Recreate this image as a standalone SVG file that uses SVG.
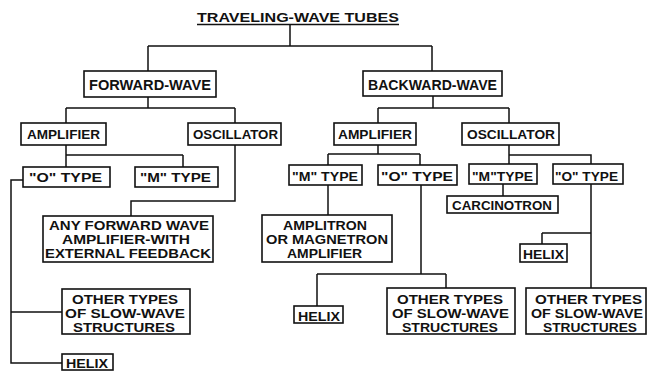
<svg xmlns="http://www.w3.org/2000/svg" width="647" height="372" viewBox="0 0 647 372">
<style>
.bg{fill:#fff}
.box{fill:#fff;stroke:#111;stroke-width:1.6}
.ln{fill:none;stroke:#111;stroke-width:1.5}
text{font-family:"Liberation Sans","DejaVu Sans",sans-serif;font-weight:bold;fill:#111;font-size:13px}
.m{font-size:12px}
.h{font-size:14px}
</style>
<rect class="bg" x="0" y="0" width="647" height="372"/>
<g id="connectors">
<path class="ln" d="M290,25V46M148,46H432M148,46V71M432,46V71"/>
<path class="ln" d="M148,97V108M66,108H235M66,108V123M235,108V123"/>
<path class="ln" d="M433,96V108M378,108H509M378,108V123M509,108V123"/>
<path class="ln" d="M66,145V167M66,155H183M183,155V167"/>
<path class="ln" d="M235,145V201H131V216"/>
<path class="ln" d="M23,180H11V363H62M11,312H62"/>
<path class="ln" d="M378,145V154M328,154H420M328,154V165M420,154V165"/>
<path class="ln" d="M328,185V215"/>
<path class="ln" d="M421,185V274M317,274H446M317,274V306M446,274V288"/>
<path class="ln" d="M509,145V164M509,155H591V164"/>
<path class="ln" d="M503,184V196"/>
<path class="ln" d="M591,184V288M542,233H591M542,233V244"/>
</g>
<g id="title">
<text x="197" y="22" textLength="202" lengthAdjust="spacingAndGlyphs">TRAVELING-WAVE TUBES</text>
<path class="ln" d="M197,24.5H399"/>
</g>
<g id="forward-wave">
<rect class="box" x="84" y="71" width="132" height="26"/>
<text class="h" x="89" y="90" textLength="122" lengthAdjust="spacingAndGlyphs">FORWARD-WAVE</text>
</g>
<g id="backward-wave">
<rect class="box" x="363" y="71" width="139" height="25"/>
<text class="h" x="368" y="90" textLength="129" lengthAdjust="spacingAndGlyphs">BACKWARD-WAVE</text>
</g>
<g id="fw-amplifier">
<rect class="box" x="21" y="123" width="85" height="22"/>
<text x="27" y="139" textLength="73" lengthAdjust="spacingAndGlyphs">AMPLIFIER</text>
</g>
<g id="fw-oscillator">
<rect class="box" x="188" y="123" width="93" height="22"/>
<text x="193" y="139" textLength="85" lengthAdjust="spacingAndGlyphs">OSCILLATOR</text>
</g>
<g id="bw-amplifier">
<rect class="box" x="334" y="123" width="82" height="22"/>
<text x="338" y="139" textLength="74" lengthAdjust="spacingAndGlyphs">AMPLIFIER</text>
</g>
<g id="bw-oscillator">
<rect class="box" x="462" y="123" width="97" height="22"/>
<text x="467" y="139" textLength="88" lengthAdjust="spacingAndGlyphs">OSCILLATOR</text>
</g>
<g id="fw-o-type">
<rect class="box" x="23" y="167" width="87" height="20"/>
<text x="29" y="182" textLength="73" lengthAdjust="spacingAndGlyphs">"O" TYPE</text>
</g>
<g id="fw-m-type">
<rect class="box" x="135" y="167" width="83" height="20"/>
<text x="140" y="182" textLength="71" lengthAdjust="spacingAndGlyphs">"M" TYPE</text>
</g>
<g id="any-forward">
<rect class="box" x="43" y="216" width="170" height="46"/>
<text class="m" x="49" y="230" textLength="160" lengthAdjust="spacingAndGlyphs">ANY FORWARD WAVE</text>
<text class="m" x="62" y="244" textLength="128" lengthAdjust="spacingAndGlyphs">AMPLIFIER-WITH</text>
<text class="m" x="45" y="258" textLength="166" lengthAdjust="spacingAndGlyphs">EXTERNAL FEEDBACK</text>
</g>
<g id="fw-other-types">
<rect class="box" x="62" y="289" width="128" height="45"/>
<text class="m" x="72" y="304" textLength="106" lengthAdjust="spacingAndGlyphs">OTHER TYPES</text>
<text class="m" x="65" y="318" textLength="120" lengthAdjust="spacingAndGlyphs">OF SLOW-WAVE</text>
<text class="m" x="73" y="332" textLength="102" lengthAdjust="spacingAndGlyphs">STRUCTURES</text>
</g>
<g id="fw-helix">
<rect class="box" x="62" y="354" width="51" height="16"/>
<text x="66" y="368" textLength="42" lengthAdjust="spacingAndGlyphs">HELIX</text>
</g>
<g id="bw-amp-m-type">
<rect class="box" x="289" y="165" width="73" height="20"/>
<text x="292" y="181" textLength="66" lengthAdjust="spacingAndGlyphs">"M" TYPE</text>
</g>
<g id="bw-amp-o-type">
<rect class="box" x="378" y="165" width="79" height="20"/>
<text x="381" y="181" textLength="72" lengthAdjust="spacingAndGlyphs">"O" TYPE</text>
</g>
<g id="amplitron">
<rect class="box" x="262" y="215" width="130" height="47"/>
<text class="m" x="283" y="230" textLength="84" lengthAdjust="spacingAndGlyphs">AMPLITRON</text>
<text class="m" x="266" y="244" textLength="122" lengthAdjust="spacingAndGlyphs">OR MAGNETRON</text>
<text class="m" x="287" y="258" textLength="75" lengthAdjust="spacingAndGlyphs">AMPLIFIER</text>
</g>
<g id="bw-amp-helix">
<rect class="box" x="294" y="306" width="49" height="17"/>
<text x="298" y="321" textLength="42" lengthAdjust="spacingAndGlyphs">HELIX</text>
</g>
<g id="bw-amp-other-types">
<rect class="box" x="387" y="288" width="128" height="46"/>
<text class="m" x="397" y="304" textLength="106" lengthAdjust="spacingAndGlyphs">OTHER TYPES</text>
<text class="m" x="392" y="318" textLength="117" lengthAdjust="spacingAndGlyphs">OF SLOW-WAVE</text>
<text class="m" x="402" y="332" textLength="96" lengthAdjust="spacingAndGlyphs">STRUCTURES</text>
</g>
<g id="bw-osc-m-type">
<rect class="box" x="469" y="164" width="68" height="20"/>
<text x="472" y="181" textLength="61" lengthAdjust="spacingAndGlyphs">"M"TYPE</text>
</g>
<g id="bw-osc-o-type">
<rect class="box" x="553" y="164" width="70" height="20"/>
<text x="555" y="181" textLength="63" lengthAdjust="spacingAndGlyphs">"O" TYPE</text>
</g>
<g id="carcinotron">
<rect class="box" x="447" y="196" width="111" height="17"/>
<text x="452" y="210" textLength="100" lengthAdjust="spacingAndGlyphs">CARCINOTRON</text>
</g>
<g id="bw-osc-helix">
<rect class="box" x="520" y="244" width="47" height="18"/>
<text x="523" y="259" textLength="41" lengthAdjust="spacingAndGlyphs">HELIX</text>
</g>
<g id="bw-osc-other-types">
<rect class="box" x="526" y="288" width="120" height="46"/>
<text class="m" x="535" y="304" textLength="107" lengthAdjust="spacingAndGlyphs">OTHER TYPES</text>
<text class="m" x="531" y="318" textLength="112" lengthAdjust="spacingAndGlyphs">OF SLOW-WAVE</text>
<text class="m" x="543" y="332" textLength="94" lengthAdjust="spacingAndGlyphs">STRUCTURES</text>
</g>
</svg>
